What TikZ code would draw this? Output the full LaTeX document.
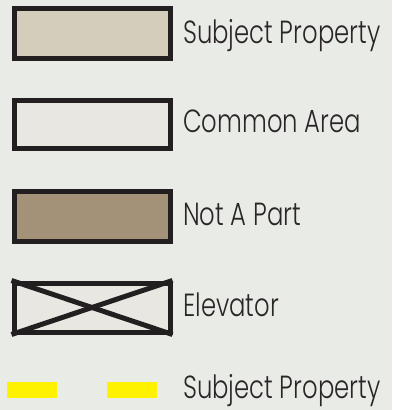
\documentclass[tikz,border=0pt]{standalone}
\usepackage{fontspec}
\setmainfont{Poppins}[UprightFont=* Light, FakeStretch=0.76]
\definecolor{bgc}{HTML}{E9ECE6}
\definecolor{subj}{HTML}{D5CDBB}
\definecolor{comm}{HTML}{E8E7E2}
\definecolor{notp}{HTML}{A39277}
\definecolor{edge}{HTML}{231F20}
\definecolor{yel}{HTML}{FFF200}
\definecolor{txt}{HTML}{2A2627}
\tikzset{
  legbox/.style={draw=edge, line width=5pt, minimum width=156pt, minimum height=50pt, inner sep=0pt, anchor=north west},
  legtext/.style={anchor=base west, inner sep=0pt, text=txt, font=\fontsize{32}{32}\selectfont},
  yelbar/.style={fill=yel, draw=none, minimum width=50pt, minimum height=16pt, inner sep=0pt, anchor=north west}
}
\begin{document}
\begin{tikzpicture}[x=1pt,y=-1pt]
\fill[bgc] (0,0) rectangle (392,410);
\useasboundingbox (0,0) rectangle (392,410);
\node[legbox, fill=subj] (b1) at (11.5,5.5) {};
\node[legbox, fill=comm, minimum height=48pt] (b2) at (11.5,97.5) {};
\node[legbox, fill=notp] (b3) at (11.5,188.5) {};
\node[legbox, fill=comm, minimum height=49pt] (b4) at (11.5,280.5) {};
\draw[edge, line width=5pt] (b4.north west) -- (b4.south east);
\draw[edge, line width=5pt] (b4.south west) -- (b4.north east);
\node[yelbar] (y1) at (7,382) {};
\node[yelbar] (y2) at (107,382) {};
\node[legtext] (t1) at (183,43) {Subject Property};
\node[legtext] (t2) at (183,132) {Common Area};
\node[legtext] (t3) at (183,225) {Not A Part};
\node[legtext] (t4) at (183,316) {Elevator};
\node[legtext] (t5) at (183,398) {Subject Property};
\end{tikzpicture}
\end{document}
